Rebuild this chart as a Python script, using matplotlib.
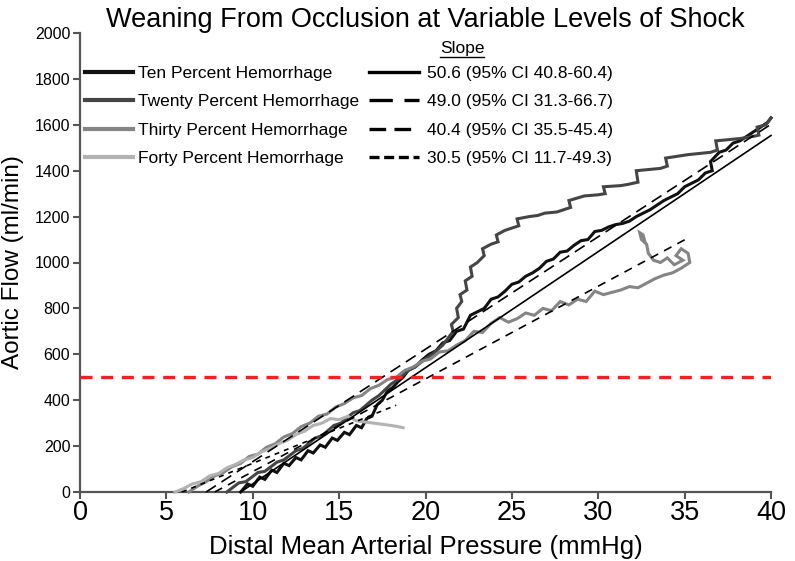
import matplotlib
matplotlib.use("Agg")
import matplotlib.pyplot as plt
from matplotlib.lines import Line2D
import numpy as np

plt.rcParams['font.family'] = ['Liberation Sans', 'DejaVu Sans']

# ---------------- data ----------------
series_names = ["Ten Percent Hemorrhage", "Twenty Percent Hemorrhage",
                "Thirty Percent Hemorrhage", "Forty Percent Hemorrhage"]
series_colors = ["#111111", "#454545", "#858585", "#b2b2b2"]

x10 = [9.3, 9.7, 10.0, 10.4, 10.7, 11.1, 11.4, 11.8, 12.1, 12.5, 12.8, 13.2, 13.5, 13.9, 14.2, 14.6, 14.9,
       15.3, 15.6, 16.0, 16.3, 16.6, 16.9, 17.2, 17.5, 17.8, 18.1, 18.4, 18.7, 19.0, 19.4, 19.8, 20.2,
       20.6, 21.0, 21.4, 21.8, 22.2, 22.6, 23.0, 23.4, 23.8, 24.2, 24.6, 25.0, 25.4, 25.8, 26.2, 26.6,
       27.0, 27.4, 27.8, 28.2, 28.6, 29.0, 29.4, 29.8, 30.2, 30.6, 31.0, 31.4, 31.8, 32.2, 32.6, 33.0,
       33.4, 33.8, 34.2, 34.6, 35.0, 35.4, 35.8, 36.2, 36.6, 36.5, 37.0, 37.4, 37.8, 38.2, 38.6, 39.0,
       39.4, 39.8, 40.0]
y10 = [0, 35, 25, 65, 55, 95, 85, 125, 115, 150, 140, 180, 170, 205, 195, 235, 225, 260, 250, 290, 280,
       320, 330, 380, 400, 440, 455, 480, 500, 530,
       545, 575, 600, 615, 650, 660, 700, 710, 770, 785, 800, 840, 850, 875, 905, 915, 940, 955, 975,
       1005, 1015, 1045, 1050, 1075, 1095, 1100, 1135, 1140, 1155, 1165, 1170, 1180, 1200, 1215, 1230,
       1250, 1270, 1285, 1300, 1330, 1345, 1360, 1390, 1400,
       1440, 1480, 1490, 1520, 1530, 1550, 1570, 1590, 1610, 1630]

x20 = [8.5, 9.2, 9.6, 10.3, 10.7, 11.4, 11.8, 12.5, 12.9, 13.6, 14.0, 14.7, 15.1, 15.8, 16.2, 16.9, 17.3,
       18.0, 18.4, 19.0, 19.4, 20.0, 20.4, 21.0, 21.3, 21.6, 21.5, 21.9, 21.8, 22.1, 22.0, 22.4, 22.3,
       22.7, 22.6, 23.0, 23.4, 23.3, 23.8, 24.2, 24.1, 24.6, 25.0, 25.4, 25.3, 26.0, 26.5, 26.9, 27.6,
       28.0, 28.4, 28.3, 29.2, 30.0, 30.4, 30.3, 31.3, 31.7, 32.3, 32.2, 33.6, 34.0, 33.9, 35.2, 36.5,
       36.9, 36.8, 38.2, 39.0, 39.3, 39.2, 39.7, 40.0]
y20 = [0, 40, 45, 85, 90, 130, 140, 180, 190, 235, 245, 290, 300, 345, 355, 400, 420, 470, 490, 530,
       545, 580, 600, 640, 670, 700, 730, 760, 800, 830, 860, 880, 920, 940, 980, 1000, 1030, 1060,
       1080, 1090, 1120, 1140, 1150, 1160, 1190, 1200, 1205, 1215, 1220, 1230, 1240, 1270, 1290, 1295,
       1300, 1330, 1335, 1340, 1350, 1400, 1410, 1420, 1455, 1470, 1480, 1490, 1530, 1540, 1550, 1555,
       1590, 1600, 1630]

x30 = [6.3, 6.8, 7.3, 7.8, 8.3, 8.8, 9.3, 9.8, 10.3, 10.8, 11.3, 11.8, 12.3, 12.8, 13.3, 13.8, 14.3,
       14.8, 15.3, 15.8, 16.3, 16.8, 17.3, 17.8, 18.3, 18.8, 19.3, 19.8, 20.3, 20.8, 21.3, 21.8, 22.3,
       22.8, 23.3, 23.8, 24.3, 24.8, 25.3, 25.8, 26.3, 26.8, 27.3, 27.8, 28.3, 28.8, 29.3, 29.8, 30.3,
       30.8, 31.3, 31.8, 32.3, 32.8, 33.3, 33.8, 34.3, 34.8, 35.3, 35.2, 34.8, 34.5, 34.9, 34.4, 34.0,
       33.6, 33.2, 32.9, 32.8, 32.5, 32.4, 32.6, 32.7]
y30 = [0, 25, 45, 70, 85, 110, 125, 155, 165, 195, 210, 240, 255, 285, 300, 330, 340, 370, 385, 410,
       420, 450, 465, 490, 500, 530, 545, 570, 580, 610, 615, 640, 660, 700, 695, 735, 760, 740, 755,
       780, 770, 800, 790, 830, 815, 840, 830, 875, 860, 870, 880, 895, 890, 910, 930, 945, 955, 975,
       1000, 1040, 1060, 1030, 1010, 990, 1020, 1000, 1010, 1040, 1080, 1100, 1130, 1120, 1090]

x40 = [5.5, 6.0, 6.5, 7.0, 7.5, 8.0, 8.5, 9.0, 9.5, 10.0, 10.5, 11.0, 11.5, 12.0, 12.5, 13.0, 13.5,
       14.0, 14.5, 15.0, 15.5, 16.0, 16.5, 17.0, 17.5, 18.0, 18.4, 18.7]
y40 = [0, 15, 35, 45, 70, 80, 105, 120, 140, 150, 175, 190, 210, 225, 250, 265, 290, 300, 320, 315,
       330, 310, 305, 300, 295, 290, 285, 280]

# regression fits: slope, x-intercept, x-end
slopes = [50.6, 49.0, 40.4, 30.5]
fit_x0 = [9.3, 7.3, 7.8, 5.9]
fit_x1 = [40.0, 40.0, 35.3, 18.3]
slope_labels = ["50.6 (95% CI 40.8-60.4)", "49.0 (95% CI 31.3-66.7)",
                "40.4 (95% CI 35.5-45.4)", "30.5 (95% CI 11.7-49.3)"]
threshold = 500

xticks = [0, 5, 10, 15, 20, 25, 30, 35, 40]
yticks = [0, 200, 400, 600, 800, 1000, 1200, 1400, 1600, 1800, 2000]

# ---------------- figure ----------------
fig = plt.figure(figsize=(7.95, 5.61), dpi=100)
ax = fig.add_axes([80 / 795, (561 - 492) / 561, (771 - 80) / 795, (492 - 33) / 561])

curves = [(x10, y10), (x20, y20), (x30, y30), (x40, y40)]
for (xs, ys), c in zip(curves, series_colors):
    ax.plot(xs, ys, color=c, lw=2.2, solid_joinstyle='miter', clip_on=False, zorder=3)

fit_styles = ['-', (0, (7, 4)), (0, (5, 4)), (0, (3, 3))]
for s, x0, x1, ls in zip(slopes, fit_x0, fit_x1, fit_styles):
    xs = np.array([x0, x1])
    ax.plot(xs, s * (xs - x0), color='black', lw=1.2, ls=ls, zorder=4, clip_on=False)

ax.axhline(threshold, color='#ee2222', lw=2.4, ls=(0, (3.6, 2.6)), zorder=5)

ax.set_xlim(0, 40)
ax.set_ylim(0, 2000)
ax.set_xticks(xticks)
ax.set_yticks(yticks)
for sp in ['top', 'right']:
    ax.spines[sp].set_visible(False)
for sp in ['left', 'bottom']:
    ax.spines[sp].set_color('#555555')
    ax.spines[sp].set_linewidth(1.6)
ax.tick_params(direction='out', length=5, width=1.5, color='#555555')
ax.tick_params(axis='x', labelsize=19.5, pad=1)
ax.tick_params(axis='y', labelsize=11.5, pad=2)

ax.set_title("Weaning From Occlusion at Variable Levels of Shock", fontsize=19.5, pad=3)
ax.set_xlabel("Distal Mean Arterial Pressure (mmHg)", fontsize=18.5, labelpad=6)
ax.set_ylabel("Aortic Flow (ml/min)", fontsize=17.5, labelpad=8)

# legends
h1 = [Line2D([], [], color=c, lw=3) for c in series_colors]
leg1 = ax.legend(h1, series_names, loc='upper left', bbox_to_anchor=(0.007, 0.929),
                 frameon=False, fontsize=12.5, handlelength=2.75, handletextpad=0.3,
                 labelspacing=0.77, borderpad=0, borderaxespad=0)
ax.add_artist(leg1)
h2 = [Line2D([], [], color='black', lw=2.4, ls=ls) for ls in
      ['-', (0, (7, 3.5)), (0, (5, 2.5, 5, 2.5, 1.5, 2.5)), (0, (3, 1.4))]]
leg2 = ax.legend(h2, slope_labels, loc='upper left', bbox_to_anchor=(0.418, 0.929),
                 frameon=False, fontsize=12.5, handlelength=2.9, handletextpad=0.45,
                 labelspacing=0.77, borderpad=0, borderaxespad=0)
ax.text(0.553, 0.966, "Slope", transform=ax.transAxes, fontsize=12.5, ha='center', va='center')
ax.plot([0.5215, 0.5845], [0.948, 0.948], transform=ax.transAxes, color='black', lw=1, clip_on=False)

fig.savefig("out.png", dpi=100)
